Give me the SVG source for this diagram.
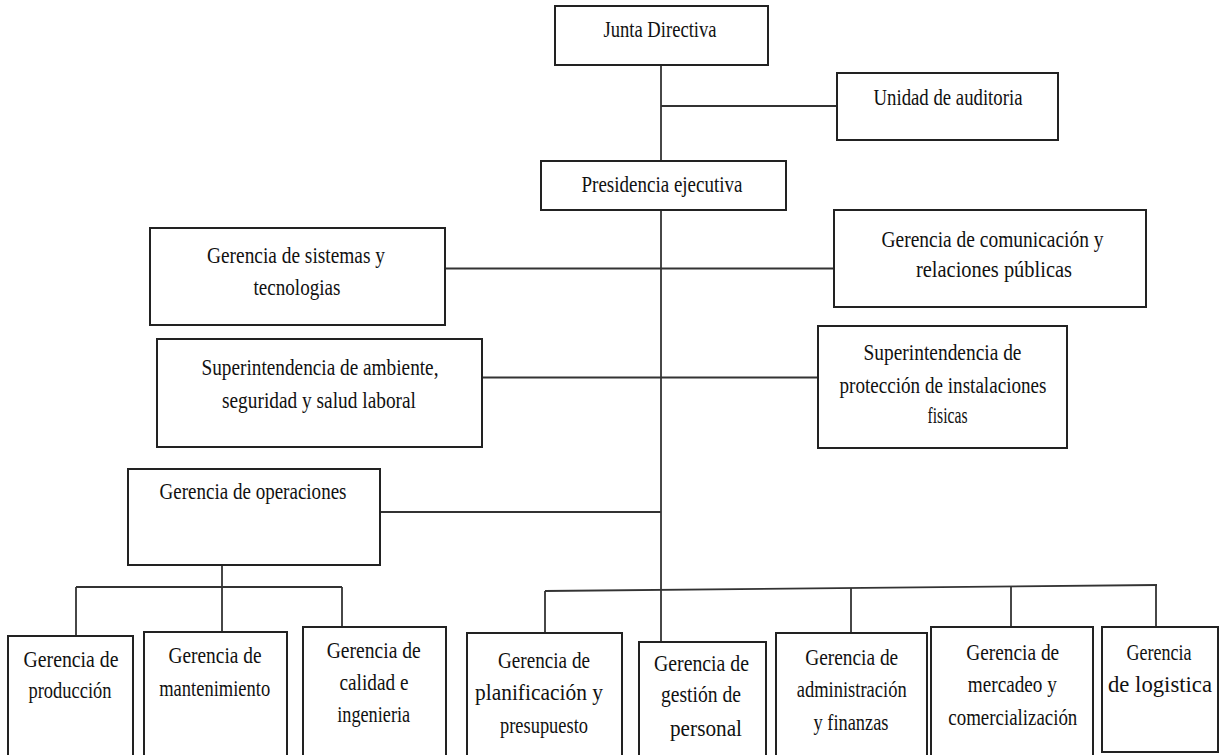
<svg xmlns="http://www.w3.org/2000/svg" width="1219" height="755" viewBox="0 0 1219 755">
<style>
.box{fill:#fff;stroke:#222;stroke-width:2}
.ln{fill:none;stroke:#333;stroke-width:1.8}
text{font-family:"Liberation Serif","Times New Roman",serif;font-size:23.5px;fill:#111;text-anchor:middle}
</style>
<rect width="1219" height="755" fill="#fff"/>
<g id="connectors">
<line class="ln" x1="661" y1="65" x2="661" y2="161"/>
<line class="ln" x1="661" y1="106" x2="837" y2="106"/>
<line class="ln" x1="661" y1="210" x2="661" y2="642"/>
<line class="ln" x1="445" y1="268.5" x2="834" y2="268.5"/>
<line class="ln" x1="482" y1="377.5" x2="818" y2="377.5"/>
<line class="ln" x1="380" y1="512" x2="661" y2="512"/>
<line class="ln" x1="222" y1="565" x2="222" y2="632"/>
<line class="ln" x1="76" y1="587" x2="342" y2="587"/>
<line class="ln" x1="76" y1="587" x2="76" y2="636"/>
<line class="ln" x1="342" y1="587" x2="342" y2="627"/>
<line class="ln" x1="545" y1="591" x2="1157" y2="585"/>
<line class="ln" x1="545" y1="591" x2="545" y2="633"/>
<line class="ln" x1="851" y1="588" x2="851" y2="633"/>
<line class="ln" x1="1011" y1="586.5" x2="1011" y2="627"/>
<line class="ln" x1="1156" y1="585" x2="1156" y2="627"/>
</g>
<g id="junta">
<rect class="box" x="555" y="6" width="213" height="59"/>
<text x="660" y="37" textLength="113" lengthAdjust="spacingAndGlyphs">Junta Directiva</text>
</g>
<g id="auditoria">
<rect class="box" x="837" y="73" width="221" height="67"/>
<text x="948" y="105" textLength="149" lengthAdjust="spacingAndGlyphs">Unidad de auditoria</text>
</g>
<g id="presidencia">
<rect class="box" x="541" y="161" width="245" height="49"/>
<text x="662" y="192" textLength="161" lengthAdjust="spacingAndGlyphs">Presidencia ejecutiva</text>
</g>
<g id="sistemas">
<rect class="box" x="150" y="228" width="295" height="97"/>
<text x="296" y="263" textLength="178" lengthAdjust="spacingAndGlyphs">Gerencia de sistemas y</text>
<text x="297" y="295" textLength="87" lengthAdjust="spacingAndGlyphs">tecnologias</text>
</g>
<g id="comunicacion">
<rect class="box" x="834" y="210" width="312" height="97"/>
<text x="992.5" y="247" textLength="222" lengthAdjust="spacingAndGlyphs">Gerencia de comunicación y</text>
<text x="994" y="277" textLength="156" lengthAdjust="spacingAndGlyphs">relaciones públicas</text>
</g>
<g id="ambiente">
<rect class="box" x="157" y="339" width="325" height="108"/>
<text x="320" y="375" textLength="237" lengthAdjust="spacingAndGlyphs">Superintendencia de ambiente,</text>
<text x="319" y="408" textLength="194" lengthAdjust="spacingAndGlyphs">seguridad y salud laboral</text>
</g>
<g id="proteccion">
<rect class="box" x="818" y="326" width="249" height="122"/>
<text x="942.5" y="360" textLength="158" lengthAdjust="spacingAndGlyphs">Superintendencia de</text>
<text x="943" y="393" textLength="207" lengthAdjust="spacingAndGlyphs">protección de instalaciones</text>
<text x="947.5" y="423" textLength="40" lengthAdjust="spacingAndGlyphs">fisicas</text>
</g>
<g id="operaciones">
<rect class="box" x="128" y="469" width="252" height="96"/>
<text x="253" y="499" textLength="187" lengthAdjust="spacingAndGlyphs">Gerencia de operaciones</text>
</g>
<g id="produccion">
<rect class="box" x="8" y="636" width="125" height="130"/>
<text x="71" y="667" textLength="95" lengthAdjust="spacingAndGlyphs">Gerencia de</text>
<text x="70" y="698" textLength="83" lengthAdjust="spacingAndGlyphs">producción</text>
</g>
<g id="mantenimiento">
<rect class="box" x="144" y="632" width="143" height="134"/>
<text x="215" y="663" textLength="93" lengthAdjust="spacingAndGlyphs">Gerencia de</text>
<text x="214.7" y="696" textLength="111" lengthAdjust="spacingAndGlyphs">mantenimiento</text>
</g>
<g id="calidad">
<rect class="box" x="303" y="627" width="143" height="139"/>
<text x="373.7" y="658" textLength="94" lengthAdjust="spacingAndGlyphs">Gerencia de</text>
<text x="374" y="690" textLength="69" lengthAdjust="spacingAndGlyphs">calidad e</text>
<text x="373.7" y="722" textLength="73" lengthAdjust="spacingAndGlyphs">ingenieria</text>
</g>
<g id="planificacion">
<rect class="box" x="467" y="633" width="155" height="133"/>
<text x="544" y="668" textLength="92" lengthAdjust="spacingAndGlyphs">Gerencia de</text>
<text x="539" y="700" textLength="128" lengthAdjust="spacingAndGlyphs">planificación y</text>
<text x="544" y="733" textLength="88" lengthAdjust="spacingAndGlyphs">presupuesto</text>
</g>
<g id="gestion">
<rect class="box" x="639" y="642" width="127" height="124"/>
<text x="701.5" y="671" textLength="95" lengthAdjust="spacingAndGlyphs">Gerencia de</text>
<text x="701" y="702" textLength="80" lengthAdjust="spacingAndGlyphs">gestión de</text>
<text x="706" y="736" textLength="72" lengthAdjust="spacingAndGlyphs">personal</text>
</g>
<g id="administracion">
<rect class="box" x="776" y="633" width="151" height="133"/>
<text x="851.7" y="665" textLength="93" lengthAdjust="spacingAndGlyphs">Gerencia de</text>
<text x="851.7" y="697" textLength="110" lengthAdjust="spacingAndGlyphs">administración</text>
<text x="851" y="730" textLength="75" lengthAdjust="spacingAndGlyphs">y finanzas</text>
</g>
<g id="mercadeo">
<rect class="box" x="931" y="627" width="162" height="139"/>
<text x="1012.7" y="660" textLength="93" lengthAdjust="spacingAndGlyphs">Gerencia de</text>
<text x="1012.3" y="692" textLength="89" lengthAdjust="spacingAndGlyphs">mercadeo y</text>
<text x="1012.8" y="725" textLength="129" lengthAdjust="spacingAndGlyphs">comercialización</text>
</g>
<g id="logistica">
<rect class="box" x="1102" y="627" width="116" height="125"/>
<text x="1159" y="660" textLength="65" lengthAdjust="spacingAndGlyphs">Gerencia</text>
<text x="1160" y="692" textLength="104" lengthAdjust="spacingAndGlyphs">de logistica</text>
</g>
</svg>
